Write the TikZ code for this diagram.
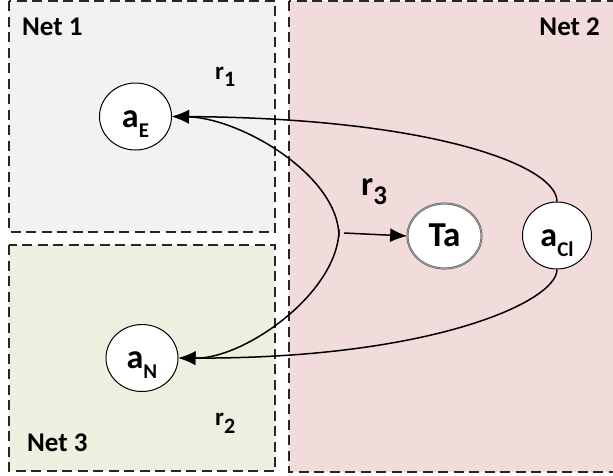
\documentclass[tikz,border=0pt]{standalone}
\usepackage{fontspec}
\setmainfont{Carlito}
\usetikzlibrary{arrows.meta,shapes.geometric}
% lowered index: font size, drop, text
\newcommand{\lowsub}[3]{\raisebox{-#2}{\fontsize{#1}{#1}\selectfont #3}}

\definecolor{netgray}{RGB}{242,242,242}
\definecolor{netgreen}{RGB}{235,241,222}
\definecolor{netpink}{RGB}{242,220,219}

\begin{document}
\begin{tikzpicture}[x=1pt,y=-1pt,
  netbox/.style={draw=black!85, line width=1.7pt, dash pattern=on 10pt off 5.5pt},
  netlabel/.style={font=\fontsize{27}{30}\selectfont\bfseries, inner sep=0pt},
  atom/.style={ellipse, draw=black, line width=1pt, fill=white,
    minimum width=72pt, minimum height=67pt, inner sep=0pt,
    text height=21pt, text depth=0pt, font=\fontsize{34}{36}\selectfont\bfseries},
  rlabel/.style={font=\fontsize{25}{28}\selectfont\bfseries, inner sep=0pt, anchor=base west},
  link/.style={line width=1.5pt, -{Latex[length=17pt,width=14pt]}}
]
\useasboundingbox (0,0) rectangle (613,475);
\fill[white] (0,0) rectangle (613,475);

% network regions
\begin{scope}
  \clip (0,0) rectangle (613,475);
  \filldraw[netbox, fill=netgray] (9,1) rectangle (275,232);
  \filldraw[netbox, fill=netgreen] (9,245) rectangle (275,471);
  \filldraw[netbox, fill=netpink] (289,1) rectangle (625,472);
\end{scope}

\node[netlabel, anchor=base west] (n1) at (22,35) {Net 1};
\node[netlabel, anchor=base east] (n2) at (600,35) {Net 2};
\node[netlabel, anchor=base west] (n3) at (27,451) {Net 3};

% species
\node[atom] (aE) at (135.5,116.5) {a\lowsub{21}{10pt}{E}};
\node[atom] (aN) at (142,358) {a\lowsub{21}{10pt}{N}};
\node[atom, draw=black!60, double=black!35, double distance=0.7pt, line width=0.7pt,
  minimum width=74pt, minimum height=65pt, font=\fontsize{35}{37}\selectfont\bfseries] (Ta) at (444.5,236) {Ta};
\node[atom, minimum width=69pt] (aCl) at (557,235.5) {a\lowsub{21}{10pt}{Cl}};

% reaction labels
\node[rlabel] (r1) at (215,79) {r\lowsub{22}{7.5pt}{1}};
\node[rlabel] (r2) at (215,425) {r\lowsub{22}{8pt}{2}};
\node[rlabel, font=\fontsize{34}{36}\selectfont\bfseries] (r3) at (361,195) {r\lowsub{27}{9pt}{3}};

% branch point of r3
\coordinate (fork) at (339,233);
\coordinate (forkout) at (344,233);

% reactions
\draw[link] (aCl.north) .. controls (557,165) and (430,118) .. (aE.east);
\draw[link] (aCl.south) .. controls (557,302) and (430,359) .. (aN.east);
\draw[link] ([yshift=-4pt]fork) .. controls (339,175) and (240,118) .. (aE.east);
\draw[link] ([yshift=4pt]fork) .. controls (339,292) and (245,359) .. (aN.east);
\draw[link] (forkout) -- (Ta.west);
\end{tikzpicture}
\end{document}
